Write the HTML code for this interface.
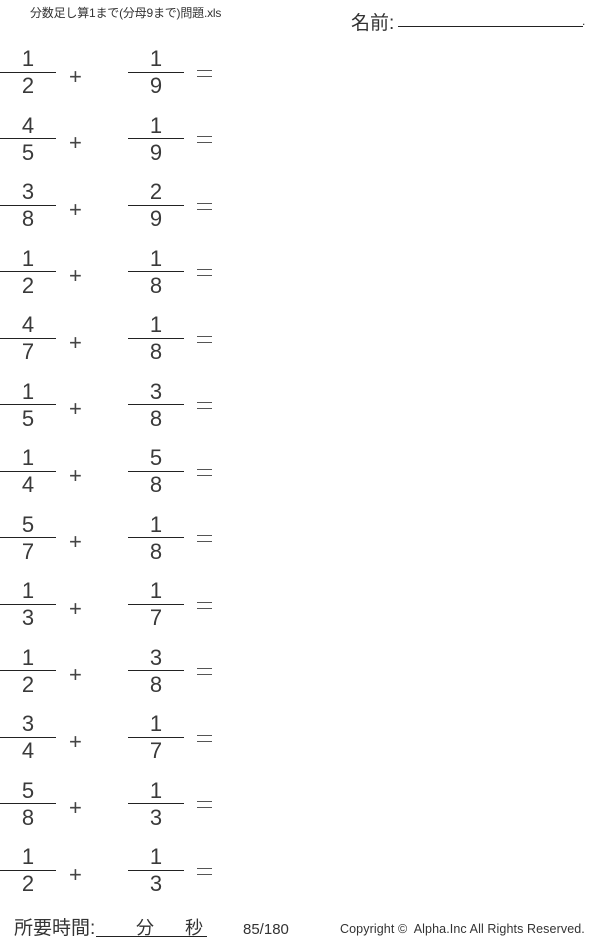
<!DOCTYPE html>
<html><head><meta charset="utf-8"><style>
body{margin:0;width:600px;height:943px;background:#fff;position:relative;overflow:hidden;font-family:"Liberation Sans","Noto Sans CJK JP",sans-serif;color:#333}
.a{position:absolute;white-space:nowrap}
.d{position:absolute;width:56px;text-align:center;font-size:22px;line-height:22px;color:#3a3a3a}
.l{position:absolute;height:1px;width:56px;background:#222}
.o{position:absolute;font-size:22px;line-height:22px;color:#444}
.e{position:absolute;width:15px;height:1px;background:#555}
</style></head><body>
<div class="a" style="left:30px;top:4px;font-size:12px;letter-spacing:-0.2px">分数足し算1まで(分母9まで)問題.xls</div>
<div class="a" style="left:351px;top:8px;font-size:19px">名前:</div>
<div class="a" style="left:398px;top:26px;width:185px;height:1px;background:#222"></div>
<div class="a" style="left:582px;top:14px;font-size:12px">.</div>
<div id="rows"></div>
<div class="a" style="left:14px;top:913px;font-size:19px">所要時間:</div>
<div class="a" style="left:96px;top:936px;width:111px;height:1px;background:#222"></div>
<div class="a" style="left:136px;top:914px;font-size:18px">分</div>
<div class="a" style="left:185px;top:914px;font-size:18px">秒</div>
<div class="a" style="left:243px;top:921px;font-size:15px">85/180</div>
<div class="a" style="left:340px;top:922px;font-size:12.5px;letter-spacing:0.1px">Copyright ©&nbsp; Alpha.Inc All Rights Reserved.</div>
<script>
var p=[[1,2,1,9],[4,5,1,9],[3,8,2,9],[1,2,1,8],[4,7,1,8],[1,5,3,8],[1,4,5,8],[5,7,1,8],[1,3,1,7],[1,2,3,8],[3,4,1,7],[5,8,1,3],[1,2,1,3]];
var h='';
p.forEach(function(r,i){var y=71.5+i*66.5;
h+='<div class="d" style="left:0;top:'+(y-23.5)+'px">'+r[0]+'</div>';
h+='<div class="l" style="left:0;top:'+y+'px"></div>';
h+='<div class="d" style="left:0;top:'+(y+3.5)+'px">'+r[1]+'</div>';
h+='<div class="o" style="left:69px;top:'+(y-6)+'px">+</div>';
h+='<div class="d" style="left:128px;top:'+(y-23.5)+'px">'+r[2]+'</div>';
h+='<div class="l" style="left:128px;top:'+y+'px"></div>';
h+='<div class="d" style="left:128px;top:'+(y+3.5)+'px">'+r[3]+'</div>';
h+='<div class="e" style="left:197px;top:'+(y-2)+'px"></div><div class="e" style="left:197px;top:'+(y+4)+'px"></div>';});
document.getElementById('rows').innerHTML=h;
</script>
</body></html>
